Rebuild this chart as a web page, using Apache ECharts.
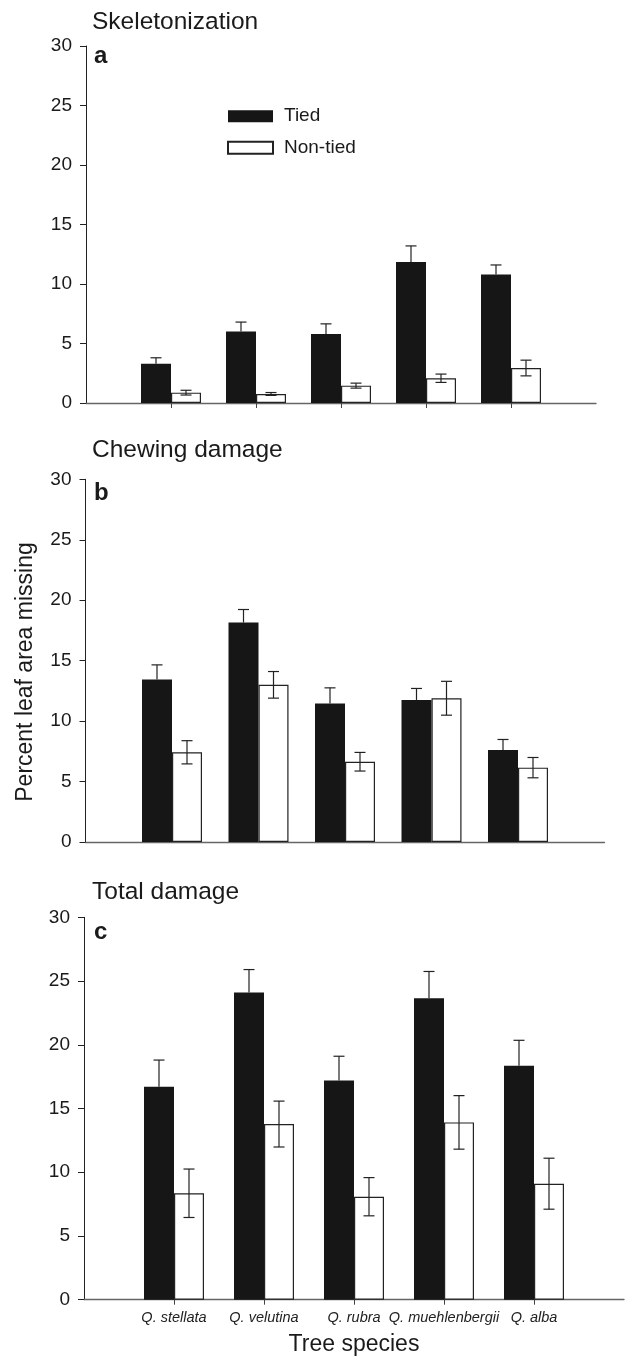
<!DOCTYPE html>
<html>
<head>
<meta charset="utf-8">
<script src="https://cdn.jsdelivr.net/npm/echarts@6/dist/echarts.min.js"></script>
<style>
html,body{margin:0;padding:0;background:#fff;}
#chart{width:629px;height:1358px;}
</style>
</head>
<body>
<div id="chart"></div>
<script>
// ---- data ----
const categories = ['Q. stellata', 'Q. velutina', 'Q. rubra', 'Q. muehlenbergii', 'Q. alba'];
const seriesNames = ['Tied', 'Non-tied'];
const panelTitles = ['Skeletonization', 'Chewing damage', 'Total damage'];
const panelLetters = ['a', 'b', 'c'];
const yTicks = [0, 5, 10, 15, 20, 25, 30];

const skelTied = [3.3, 6.0, 5.8, 11.85, 10.8];
const skelTiedSE = [0.5, 0.8, 0.85, 1.35, 0.8];
const skelNon = [0.87, 0.76, 1.46, 2.08, 2.94];
const skelNonSE = [0.2, 0.12, 0.21, 0.35, 0.66];

const chewTied = [13.45, 18.15, 11.45, 11.75, 7.6];
const chewTiedSE = [1.2, 1.08, 1.3, 0.95, 0.88];
const chewNon = [7.42, 13.0, 6.64, 11.89, 6.15];
const chewNonSE = [0.96, 1.1, 0.77, 1.4, 0.84];

const totTied = [16.7, 24.1, 17.2, 23.65, 18.35];
const totTiedSE = [2.1, 1.8, 1.9, 2.1, 2.0];
const totNon = [8.35, 13.78, 8.08, 13.91, 9.1];
const totNonSE = [1.9, 1.8, 1.5, 2.1, 2.0];

const xLabel = 'Tree species';
const yLabel = 'Percent leaf area missing';

// ---- build ----
const panelData = [
  [skelTied, skelTiedSE, skelNon, skelNonSE],
  [chewTied, chewTiedSE, chewNon, chewNonSE],
  [totTied, totTiedSE, totNon, totNonSE]
];
const axisCats = [''].concat(categories).concat(['']);
const FONT = '"Liberation Sans", Arial, Helvetica, sans-serif';

const grids = [
  {left: 86, top: 46, width: 510, height: 357},
  {left: 85.5, top: 479.3, width: 519, height: 362.7},
  {left: 84, top: 917.3, width: 540, height: 382.4}
];

function errRender(offset, upperOnly) {
  return function (params, api) {
    const idx = api.value(0), v = api.value(1), se = api.value(2);
    const p = api.coord([idx, v]);
    const t = api.coord([idx, v + se]);
    const b = api.coord([idx, v - se]);
    const cx = p[0] + offset;
    const yBot = upperOnly ? p[1] : b[1];
    const hw = 5.5;
    const st = {stroke: '#222', lineWidth: 1.2};
    const children = [
      {type: 'line', shape: {x1: cx, y1: t[1], x2: cx, y2: yBot}, style: st},
      {type: 'line', shape: {x1: cx - hw, y1: t[1], x2: cx + hw, y2: t[1]}, style: st}
    ];
    if (!upperOnly) {
      children.push({type: 'line', shape: {x1: cx - hw, y1: b[1], x2: cx + hw, y2: b[1]}, style: st});
    }
    return {type: 'group', children: children};
  };
}

const xAxes = [], yAxes = [], series = [];
const tickFilter = function (i) { return i >= 1 && i <= 5; };
for (let g = 0; g < 3; g++) {
  xAxes.push({
    type: 'category', gridIndex: g, data: axisCats, boundaryGap: false,
    axisLine: {show: true, lineStyle: {color: '#666', width: 1.3}},
    axisTick: {show: g !== 1, interval: tickFilter, length: 5, lineStyle: {color: '#444', width: 1}},
    axisLabel: {show: g === 2, interval: 0, margin: 11, fontFamily: FONT, fontSize: 14.5,
      fontStyle: 'italic', color: '#222'},
    name: g === 2 ? xLabel : '', nameLocation: 'middle', nameGap: 33,
    nameTextStyle: {fontFamily: FONT, fontSize: 23, color: '#1a1a1a'},
    splitLine: {show: false}
  });
  yAxes.push({
    type: 'value', gridIndex: g, min: yTicks[0], max: yTicks[yTicks.length - 1], interval: yTicks[1] - yTicks[0],
    axisLine: {show: true, lineStyle: {color: '#222', width: 1}},
    axisTick: {show: true, length: 6, lineStyle: {color: '#222', width: 1}},
    axisLabel: {margin: 14, fontFamily: FONT, fontSize: 19, color: '#1a1a1a'},
    splitLine: {show: false}
  });
  const d = panelData[g];
  series.push({
    name: seriesNames[0], type: 'bar', xAxisIndex: g, yAxisIndex: g,
    barWidth: 30, barGap: '0%',
    itemStyle: {color: '#161616', borderColor: '#161616', borderWidth: 0},
    data: d[0].map(function (v, i) { return [i + 1, v]; }),
    z: 2
  });
  series.push({
    name: seriesNames[1], type: 'bar', xAxisIndex: g, yAxisIndex: g,
    barWidth: 30, barGap: '0%',
    itemStyle: {color: '#ffffff', borderColor: '#222', borderWidth: 1.2},
    data: d[2].map(function (v, i) { return [i + 1, v]; }),
    z: 2
  });
  series.push({
    type: 'custom', xAxisIndex: g, yAxisIndex: g, renderItem: errRender(-15, true),
    data: d[0].map(function (v, i) { return [i + 1, v, d[1][i]]; }),
    encode: {x: 0, y: 1}, z: 5, clip: false, silent: true
  });
  series.push({
    type: 'custom', xAxisIndex: g, yAxisIndex: g, renderItem: errRender(15, false),
    data: d[2].map(function (v, i) { return [i + 1, v, d[3][i]]; }),
    encode: {x: 0, y: 1}, z: 5, clip: false, silent: true
  });
}

const titleY = [22.5, 450, 892];
const letterY = [56, 493, 932];
const graphics = [];
for (let g = 0; g < 3; g++) {
  graphics.push({type: 'text', x: 92, y: titleY[g],
    style: {text: panelTitles[g], font: '24.5px ' + FONT, fill: '#1a1a1a', align: 'left', verticalAlign: 'middle'}});
  graphics.push({type: 'text', x: 94, y: letterY[g],
    style: {text: panelLetters[g], font: 'bold 24px ' + FONT, fill: '#1a1a1a', align: 'left', verticalAlign: 'middle'}});
}
graphics.push({type: 'text', x: 26, y: 672, rotation: Math.PI / 2,
  style: {text: yLabel, font: '23px ' + FONT, fill: '#1a1a1a', align: 'center', verticalAlign: 'middle'}});

const chart = echarts.init(document.getElementById('chart'), null, {renderer: 'canvas'});
chart.setOption({
  animation: false,
  backgroundColor: '#fff',
  grid: grids,
  xAxis: xAxes,
  yAxis: yAxes,
  legend: {
    data: [{name: seriesNames[0], icon: 'rect'}, {name: seriesNames[1], icon: 'rect'}],
    orient: 'vertical', left: 227, top: 106.7, padding: 0,
    itemWidth: 45, itemHeight: 12, itemGap: 12.5,
    textStyle: {fontFamily: FONT, fontSize: 19, color: '#1a1a1a', lineHeight: 12, padding: [0, 0, 0, 6]},
    selectedMode: false
  },
  graphic: graphics,
  series: series
});
</script>
</body>
</html>
